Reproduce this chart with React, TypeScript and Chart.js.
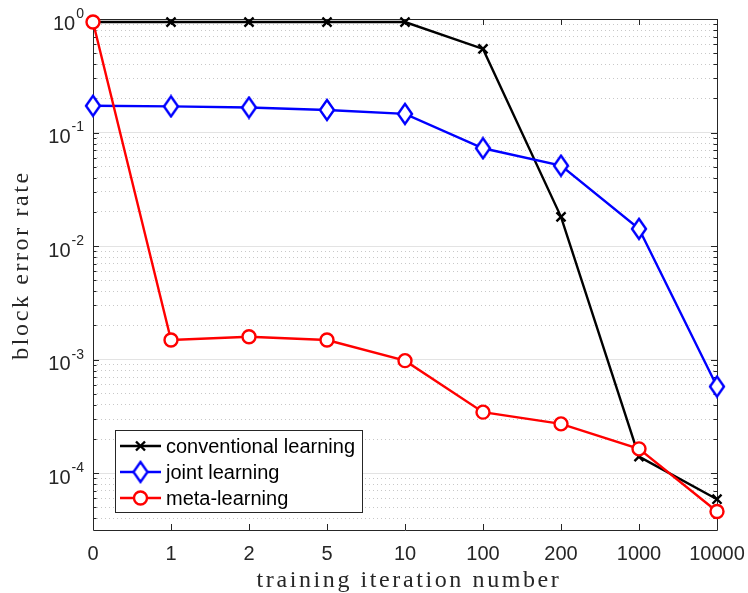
import React, { useEffect, useRef } from "react";
import { Chart, registerables } from "chart.js";

Chart.register(...registerables);

const categories = ["0", "1", "2", "5", "10", "100", "200", "1000", "10000"];
const conventional = [0.94, 0.94, 0.94, 0.94, 0.94, 0.545, 0.0181, 1.4e-4, 5.9e-5];
const joint = [0.172, 0.17, 0.166, 0.158, 0.146, 0.0727, 0.0511, 0.0142, 5.8e-4];
const meta = [0.94, 1.49e-3, 1.59e-3, 1.49e-3, 9.8e-4, 3.45e-4, 2.72e-4, 1.64e-4, 4.6e-5];
const seriesLabels = ["conventional learning", "joint learning", "meta-learning"];
const yExponents = [0, -1, -2, -3, -4];
const xTitle = "training iteration number";
const yTitle = "block error rate";

const Y_MIN = Math.pow(10, -4.5);
const Y_MAX = 1;
const AXIS_COLOR = "#262626";
const SANS = '"Liberation Sans", Arial, Helvetica, sans-serif';
const SERIF = '"Liberation Serif", "Times New Roman", serif';

function makeDiamond(): HTMLCanvasElement {
  const c = document.createElement("canvas");
  c.width = 18;
  c.height = 24;
  const g = c.getContext("2d")!;
  g.beginPath();
  g.moveTo(9, 2);
  g.lineTo(16, 12);
  g.lineTo(9, 22);
  g.lineTo(2, 12);
  g.closePath();
  g.fillStyle = "#ffffff";
  g.fill();
  g.lineWidth = 2.4;
  g.strokeStyle = "#0000ff";
  g.lineJoin = "miter";
  g.stroke();
  return c;
}

export default function App() {
  const ref = useRef<HTMLCanvasElement>(null);

  useEffect(() => {
    document.body.style.margin = "0";
    const diamond = makeDiamond();

    const framePlugin = {
      id: "frameTicks",
      beforeDatasetsDraw(chart: any) {
        const { ctx, chartArea } = chart;
        const { left, right, top, bottom } = chartArea;
        const xs = chart.scales.x;
        const ys = chart.scales.y;
        ctx.save();
        ctx.strokeStyle = AXIS_COLOR;
        ctx.lineWidth = 1;
        ctx.beginPath();
        ctx.rect(Math.round(left) + 0.5, Math.round(top) + 0.5, Math.round(right - left), Math.round(bottom - top));
        ctx.stroke();
        ctx.beginPath();
        for (let i = 0; i < categories.length; i++) {
          const x = Math.round(xs.getPixelForValue(i)) + 0.5;
          ctx.moveTo(x, bottom);
          ctx.lineTo(x, bottom - 6);
          ctx.moveTo(x, top);
          ctx.lineTo(x, top + 6);
        }
        ys.ticks.forEach((t: any) => {
          const y = Math.round(ys.getPixelForValue(t.value)) + 0.5;
          const len = t.major ? 6 : 3.5;
          ctx.moveTo(left, y);
          ctx.lineTo(left + len, y);
          ctx.moveTo(right, y);
          ctx.lineTo(right - len, y);
        });
        ctx.stroke();
        ctx.restore();
      },
      afterDatasetsDraw(chart: any) {
        const { ctx } = chart;
        const bx = 115, by = 430, bw = 247, bh = 82;
        ctx.save();
        ctx.fillStyle = "#ffffff";
        ctx.fillRect(bx, by, bw, bh);
        ctx.strokeStyle = AXIS_COLOR;
        ctx.lineWidth = 1;
        ctx.strokeRect(bx + 0.5, by + 0.5, bw, bh);
        const rows = [446, 472, 498];
        const colors = ["#000000", "#0000ff", "#ff0000"];
        rows.forEach((yy, i) => {
          ctx.strokeStyle = colors[i];
          ctx.lineWidth = 2.4;
          ctx.beginPath();
          ctx.moveTo(120, yy);
          ctx.lineTo(161, yy);
          ctx.stroke();
          const mx = 140.5;
          if (i === 0) {
            ctx.lineWidth = 2.4;
            ctx.beginPath();
            ctx.moveTo(mx - 4.5, yy - 4.5);
            ctx.lineTo(mx + 4.5, yy + 4.5);
            ctx.moveTo(mx + 4.5, yy - 4.5);
            ctx.lineTo(mx - 4.5, yy + 4.5);
            ctx.stroke();
          } else if (i === 1) {
            ctx.drawImage(diamond, mx - 9, yy - 12);
          } else {
            ctx.beginPath();
            ctx.arc(mx, yy, 6.5, 0, Math.PI * 2);
            ctx.fillStyle = "#ffffff";
            ctx.fill();
            ctx.stroke();
          }
          ctx.fillStyle = "#000000";
          ctx.font = `20px ${SANS}`;
          ctx.textAlign = "left";
          ctx.textBaseline = "middle";
          ctx.fillText(seriesLabels[i], 166, yy + 1);
        });
        ctx.restore();
      },
      afterDraw(chart: any) {
        const { ctx, chartArea } = chart;
        const ys = chart.scales.y;
        ctx.save();
        ctx.fillStyle = AXIS_COLOR;
        yExponents.forEach((e) => {
          const y = ys.getPixelForValue(Math.pow(10, e));
          const sup = String(e);
          ctx.font = `14px ${SANS}`;
          const sw = ctx.measureText(sup).width;
          const rightEdge = chartArea.left - 9;
          ctx.textAlign = "left";
          ctx.textBaseline = "middle";
          ctx.fillText(sup, rightEdge - sw, y - 5);
          ctx.font = `20px ${SANS}`;
          ctx.textAlign = "right";
          ctx.fillText("10", rightEdge - sw - 1, y + 5);
        });
        ctx.font = `24px ${SERIF}`;
        (ctx as any).letterSpacing = "2.6px";
        ctx.textAlign = "center";
        ctx.textBaseline = "alphabetic";
        ctx.fillText(xTitle, (chartArea.left + chartArea.right) / 2 + 4, 587);
        ctx.translate(28, 265);
        ctx.rotate(-Math.PI / 2);
        ctx.fillText(yTitle, 0, 0);
        ctx.restore();
      },
    };

    const chart = new Chart(ref.current!, {
      type: "line",
      data: {
        labels: categories,
        datasets: [
          {
            label: seriesLabels[0],
            data: conventional,
            borderColor: "#000000",
            backgroundColor: "#000000",
            borderWidth: 2.4,
            pointStyle: "crossRot",
            pointRadius: 6.4,
            pointBorderWidth: 2.4,
            order: 2,
            clip: false,
          },
          {
            label: seriesLabels[1],
            data: joint,
            borderColor: "#0000ff",
            backgroundColor: "#ffffff",
            borderWidth: 2.4,
            pointStyle: diamond,
            pointRadius: 9,
            order: 1,
            clip: false,
          },
          {
            label: seriesLabels[2],
            data: meta,
            borderColor: "#ff0000",
            backgroundColor: "#ffffff",
            borderWidth: 2.4,
            pointStyle: "circle",
            pointRadius: 6.5,
            pointBorderWidth: 2.4,
            order: 0,
            clip: false,
          },
        ],
      },
      options: {
        responsive: false,
        animation: false,
        layout: { padding: { top: 19, right: 31, left: 0, bottom: 0 } },
        plugins: { legend: { display: false }, tooltip: { enabled: false } },
        elements: { line: { tension: 0 } },
        scales: {
          x: {
            type: "category",
            offset: false,
            grid: { display: false, drawTicks: false },
            border: { display: false },
            ticks: {
              color: AXIS_COLOR,
              font: { family: SANS, size: 20 },
              padding: 12,
              maxRotation: 0,
              autoSkip: false,
            },
            afterFit: (s: any) => {
              s.height = 63;
              s.paddingLeft = 0;
              s.paddingRight = 0;
            },
          },
          y: {
            type: "logarithmic",
            min: Y_MIN,
            max: Y_MAX,
            afterBuildTicks: (s: any) => {
              const t: any[] = [];
              for (let e = -5; e <= 0; e++) {
                for (let m = 1; m <= 9; m++) {
                  const v = m * Math.pow(10, e);
                  if (v >= Y_MIN && v <= Y_MAX * 1.0001) t.push({ value: v, major: m === 1 });
                }
              }
              s.ticks = t;
            },
            ticks: { display: false },
            grid: {
              drawTicks: false,
              lineWidth: 1,
              color: (c: any) => (c.tick && c.tick.major ? "#e3e3e3" : "#c8c8c8"),
            },
            border: {
              display: false,
              dash: (c: any) => (c.tick && !c.tick.major ? [1, 3] : []),
            },
            afterFit: (s: any) => {
              s.width = 93;
              s.paddingTop = 0;
              s.paddingBottom = 0;
            },
          },
        },
      },
      plugins: [framePlugin],
    } as any);

    return () => chart.destroy();
  }, []);

  return (
    <div style={{ position: "fixed", left: 0, top: 0, width: 748, height: 593, background: "#fff" }}>
      <canvas ref={ref} width={748} height={593} />
    </div>
  );
}
